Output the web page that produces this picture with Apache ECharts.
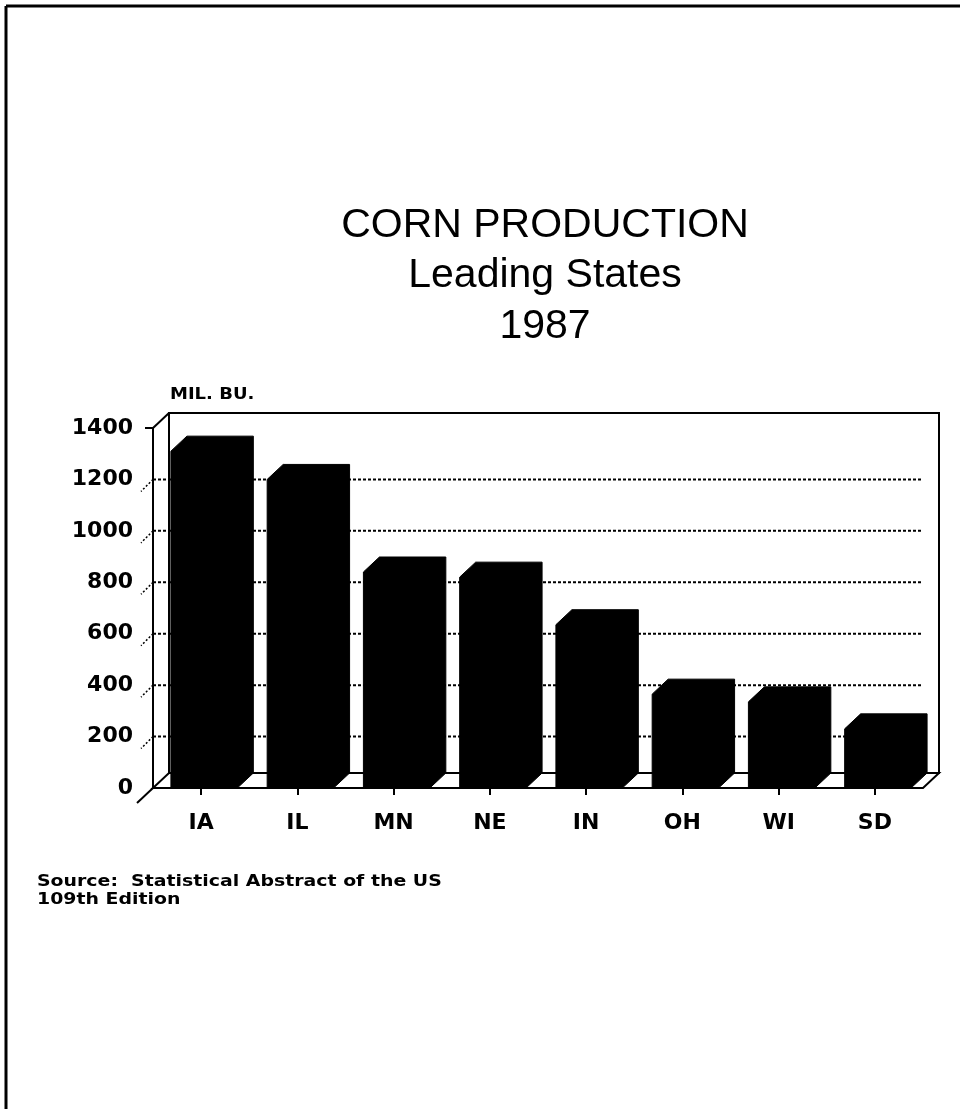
<!DOCTYPE html>
<html>
<head>
<meta charset="utf-8">
<script src="https://cdn.jsdelivr.net/npm/echarts@6/dist/echarts.min.js"></script>
<style>
html,body{margin:0;padding:0;background:#fff;}
#chart{width:960px;height:1109px;}
</style>
</head>
<body>
<div id="chart"></div>
<script>
// ---- data ----
const categories = ['IA', 'IL', 'MN', 'NE', 'IN', 'OH', 'WI', 'SD'];
const production = [1310, 1200, 840, 820, 635, 365, 335, 230];
const gridValues = [200, 400, 600, 800, 1000, 1200];
const titleLines = ['CORN PRODUCTION', 'Leading States', '1987'];
const unitLabel = 'MIL. BU.';
const sourceLines = ['Source:  Statistical Abstract of the US', '109th Edition'];

const DX = 16, DY = 15;

function renderFrame(params, api) {
  const cs = params.coordSys;
  const L = cs.x, R = cs.x + cs.width, T = cs.y, B = cs.y + cs.height;
  const y = v => api.coord([0, v])[1];
  const black = '#000';
  const children = [];
  // back wall
  children.push({type: 'rect', shape: {x: L + DX, y: T - DY, width: R - L, height: B - T},
    style: {fill: '#fff', stroke: black, lineWidth: 2}});
  // dotted grid lines
  gridValues.forEach(v => {
    children.push({type: 'line', shape: {x1: L, y1: y(v), x2: R, y2: y(v)},
      style: {stroke: black, lineWidth: 2, lineDash: [3, 2]}});
    children.push({type: 'line', shape: {x1: L, y1: y(v), x2: L - 12, y2: y(v) + 12},
      style: {stroke: black, lineWidth: 1.5, lineDash: [2, 2]}});
  });
  // floor
  children.push({type: 'polygon', shape: {points: [[L, B], [R, B], [R + DX, B - DY], [L + DX, B - DY]]},
    style: {fill: '#fff', stroke: black, lineWidth: 2}});
  // floor-left extension
  children.push({type: 'line', shape: {x1: L, y1: B, x2: L - 16, y2: B + 15},
    style: {stroke: black, lineWidth: 2}});
  // side (value) axis
  children.push({type: 'line', shape: {x1: L, y1: B, x2: L, y2: T},
    style: {stroke: black, lineWidth: 2}});
  children.push({type: 'line', shape: {x1: L, y1: T, x2: L + DX, y2: T - DY},
    style: {stroke: black, lineWidth: 2}});
  children.push({type: 'line', shape: {x1: L - 8, y1: T, x2: L, y2: T},
    style: {stroke: black, lineWidth: 2}});
  return {type: 'group', children: children};
}

function renderBar(params, api) {
  const i = api.value(0), v = api.value(1);
  const top = api.coord([i, v]);
  const base = api.coord([i, 0]);
  const w = api.size([1, 0])[0] * 0.69;
  const xl = top[0] - w / 2 + 3, xr = top[0] + w / 2 + 3;
  const yt = top[1], yb = base[1];
  return {
    type: 'polygon',
    shape: {points: [[xl, yb], [xl, yt], [xl + DX, yt - DY], [xr + DX, yt - DY], [xr + DX, yb - DY], [xr, yb]]},
    style: {fill: '#000', stroke: '#000', lineWidth: 1}
  };
}

const chart = echarts.init(document.getElementById('chart'), null, {renderer: 'canvas'});
const titleFont = '41px "Liberation Sans", Arial, sans-serif';
const smallFont = 'bold 15px "DejaVu Sans"';
const option = {
  backgroundColor: '#fff',
  animation: false,
  grid: {left: 153, right: 37, top: 428, bottom: 321},
  xAxis: {
    type: 'category',
    data: categories,
    axisLine: {show: false},
    axisTick: {show: true, alignWithLabel: true, length: 7, lineStyle: {color: '#000', width: 2}},
    axisLabel: {color: '#000', fontFamily: 'DejaVu Sans', fontWeight: 'bold', fontSize: 22, margin: 24},
    splitLine: {show: false}
  },
  yAxis: {
    type: 'value',
    min: 0, max: 1400, interval: 200,
    axisLine: {show: false},
    axisTick: {show: false},
    splitLine: {show: false},
    axisLabel: {color: '#000', fontFamily: 'DejaVu Sans', fontWeight: 'bold', fontSize: 22, margin: 20,
      formatter: v => String(v)}
  },
  graphic: [
    {type: 'line', shape: {x1: 6, y1: 6, x2: 960, y2: 6}, style: {stroke: '#000', lineWidth: 3}},
    {type: 'line', shape: {x1: 6, y1: 6, x2: 6, y2: 1109}, style: {stroke: '#000', lineWidth: 3}},
    {type: 'text', x: 545, y: 226, style: {text: titleLines[0], font: titleFont, fill: '#000', textAlign: 'center', textVerticalAlign: 'middle'}},
    {type: 'text', x: 545, y: 276, style: {text: titleLines[1], font: titleFont, fill: '#000', textAlign: 'center', textVerticalAlign: 'middle'}},
    {type: 'text', x: 545, y: 327, style: {text: titleLines[2], font: titleFont, fill: '#000', textAlign: 'center', textVerticalAlign: 'middle'}},
    {type: 'text', x: 170, y: 395, scaleX: 1.2, style: {text: unitLabel, font: smallFont, fill: '#000', textAlign: 'left', textVerticalAlign: 'middle'}},
    {type: 'text', x: 37, y: 882, scaleX: 1.26, style: {text: sourceLines[0], font: smallFont, fill: '#000', textAlign: 'left', textVerticalAlign: 'middle'}},
    {type: 'text', x: 37, y: 900, scaleX: 1.26, style: {text: sourceLines[1], font: smallFont, fill: '#000', textAlign: 'left', textVerticalAlign: 'middle'}}
  ],
  series: [
    {type: 'custom', name: 'frame', renderItem: renderFrame, data: [[0, 0]], silent: true, z: 1, clip: false},
    {type: 'custom', name: 'Corn production', renderItem: renderBar,
      data: production.map((v, i) => [i, v]), z: 2, clip: false}
  ]
};
chart.setOption(option);
</script>
</body>
</html>
